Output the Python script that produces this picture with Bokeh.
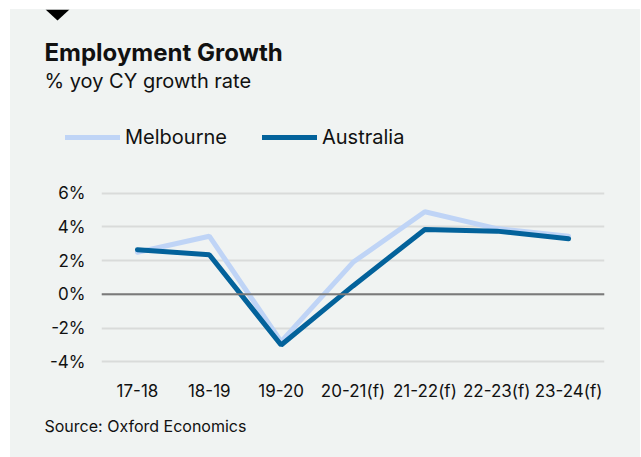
from bokeh.plotting import figure
from bokeh.layouts import column
from bokeh.models import (FactorRange, Range1d, FixedTicker, PrintfTickFormatter, Span,
                          Legend, LegendItem, ColumnDataSource, Label, PolyAnnotation)
from bokeh.embed import file_html
from bokeh.resources import INLINE

categories = ["17-18", "18-19", "19-20", "20-21(f)", "21-22(f)", "22-23(f)", "23-24(f)"]
melbourne = [2.5, 3.45, -2.8, 1.9, 4.9, 3.9, 3.45]
australia = [2.65, 2.35, -3.0, 0.5, 3.85, 3.75, 3.3]
y_ticks = [-4, -2, 0, 2, 4, 6]

FONT = "Inter"
BG = "#f0f3f2"
TXT = "#111111"
MEL_COLOR = "#bfd4f6"
AUS_COLOR = "#03629b"

src = ColumnDataSource(dict(cat=categories, mel=melbourne, aus=australia))


def blank_fig(height, **kw):
    f = figure(width=630, height=height, output_backend="svg", toolbar_location=None,
               title=None, x_axis_location=None, y_axis_location=None,
               min_border_left=0, min_border_right=0, min_border_top=0, min_border_bottom=0,
               background_fill_color=BG, border_fill_color=BG, outline_line_color=None, **kw)
    for g in f.grid:
        g.visible = False
    f.frame_align = False
    return f


def add_label(f, text, x, y, size, bold=False):
    f.add_layout(Label(x=x, y=y, x_units="screen", y_units="screen", text=text,
                       text_font=FONT, text_font_size=size,
                       text_font_style="bold" if bold else "normal",
                       text_color=TXT, text_baseline="alphabetic", text_align="left"))


# ---------- header: title, subtitle, legend, marker ----------
header = blank_fig(172, x_range=FactorRange(*categories), y_range=Range1d(100, 101))
h_mel = header.line("cat", "mel", source=src, line_color=MEL_COLOR, line_width=5, line_cap="round")
h_aus = header.line("cat", "aus", source=src, line_color=AUS_COLOR, line_width=5, line_cap="round")

add_label(header, "Employment Growth", 34, 129.3, "24px", bold=True)
add_label(header, "% yoy CY growth rate", 34, 100.7, "20px")

legend = Legend(items=[LegendItem(label="Melbourne", renderers=[h_mel]),
                       LegendItem(label="Australia", renderers=[h_aus])],
                orientation="horizontal", location=(55, 32.3),
                glyph_width=55, glyph_height=24, label_height=24, label_standoff=5,
                spacing=35, padding=0, margin=0, border_line_color=None,
                background_fill_alpha=0, label_text_font=FONT,
                label_text_font_size="20px", label_text_color=TXT)
header.add_layout(legend)

header.add_layout(PolyAnnotation(xs=[35, 59, 47], ys=[172, 172, 161], xs_units="screen",
                                 ys_units="screen", fill_color="black", fill_alpha=1,
                                 line_color=None))

# ---------- main chart ----------
p = figure(x_range=FactorRange(*categories), y_range=Range1d(-4.1, 6.1),
           width=630, height=222, output_backend="svg", toolbar_location=None, title=None,
           min_border_left=91, min_border_right=36, min_border_top=10, min_border_bottom=40,
           background_fill_color=BG, border_fill_color=BG, outline_line_color=None)
p.frame_align = False

p.line("cat", "mel", source=src, line_color=MEL_COLOR, line_width=5, line_cap="round")
p.line("cat", "aus", source=src, line_color=AUS_COLOR, line_width=5, line_cap="round")

p.xaxis.axis_line_color = None
p.xaxis.major_tick_line_color = None
p.xaxis.minor_tick_line_color = None
p.xaxis.major_tick_out = 0
p.xaxis.major_tick_in = 0
p.xaxis.major_label_standoff = 17
p.xaxis.major_label_text_font = FONT
p.xaxis.major_label_text_font_size = "17px"
p.xaxis.major_label_text_color = TXT

p.yaxis.ticker = FixedTicker(ticks=y_ticks)
p.yaxis.formatter = PrintfTickFormatter(format="%d%%")
p.yaxis.axis_line_color = None
p.yaxis.major_tick_line_color = None
p.yaxis.minor_tick_line_color = None
p.yaxis.major_tick_out = 0
p.yaxis.major_tick_in = 0
p.yaxis.minor_tick_out = 0
p.yaxis.major_label_standoff = 16
p.yaxis.major_label_text_font = FONT
p.yaxis.major_label_text_font_size = "17px"
p.yaxis.major_label_text_color = TXT

p.xgrid.grid_line_color = None
p.ygrid.ticker = FixedTicker(ticks=y_ticks)
p.ygrid.grid_line_color = "#d9dbda"
p.ygrid.grid_line_width = 2

p.add_layout(Span(location=0, dimension="width", line_color="#7a7a7a", line_width=2))

# ---------- footer: source ----------
footer = blank_fig(54, x_range=Range1d(0, 1), y_range=Range1d(0, 1))
add_label(footer, "Source: Oxford Economics", 34, 31.8, "16px")

root = column(header, p, footer, spacing=0, margin=(9, 1, 0, 10),
              styles={"background-color": BG})

open("out.html", "w").write(file_html(root, INLINE))
